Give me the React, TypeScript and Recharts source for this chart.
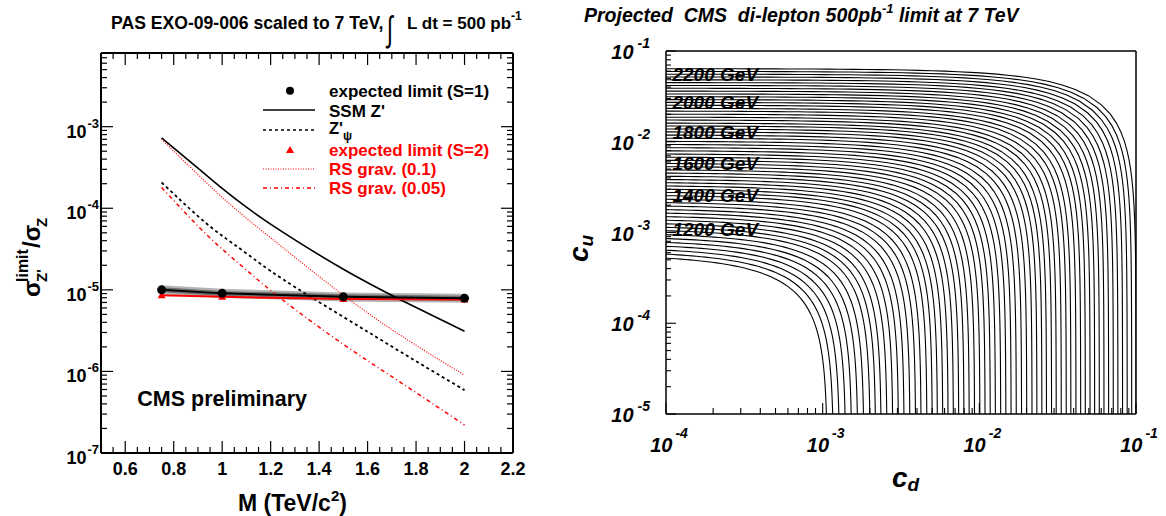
import React from 'react';
import { ComposedChart, LineChart, Line, Area, XAxis, YAxis, Legend, ReferenceDot } from 'recharts';

const FONT = '"Liberation Sans", Arial, Helvetica, sans-serif';

// ---------------- Left panel: sigma(Z')/sigma(Z) vs mass ----------------
const massPoints = [0.75, 0.9, 1.0, 1.1, 1.25, 1.5, 1.75, 2.0];
const ssmZprime = [7.3e-4, 3.1e-4, 1.75e-4, 1.03e-4, 5.1e-5, 1.79e-5, 7.2e-6, 3.1e-6];
const psiZprime = [2.07e-4, 8.0e-5, 4.6e-5, 2.8e-5, 1.35e-5, 4.66e-6, 1.64e-6, 5.9e-7];
const rsGrav01 = [7.0e-4, 2.59e-4, 1.36e-4, 7.55e-5, 3.3e-5, 8.6e-6, 2.6e-6, 9.0e-7];
const rsGrav005 = [1.8e-4, 6.05e-5, 3.16e-5, 1.75e-5, 7.5e-6, 2.15e-6, 6.9e-7, 2.2e-7];

const expMass = [0.75, 1.0, 1.5, 2.0];
const expLimitS1 = [1.0e-5, 9.05e-6, 8.2e-6, 7.9e-6];
const expLimitS2 = [8.6e-6, 8.2e-6, 7.7e-6, 7.6e-6];
const bandOuterLow = [8.8e-6, 7.97e-6, 7.22e-6, 6.96e-6];
const bandOuterHigh = [1.135e-5, 1.03e-5, 9.3e-6, 8.95e-6];
const bandInnerLow = [9.32e-6, 8.43e-6, 7.64e-6, 7.36e-6];
const bandInnerHigh = [1.073e-5, 9.7e-6, 8.8e-6, 8.48e-6];

const leftXDomain: [number, number] = [0.5, 2.2];
const leftYDomain: [number, number] = [1e-7, 8e-3];

// ---------------- Right panel: contours in (c_d, c_u) ----------------
const contourMassGeV = [
  1060, 1080, 1100, 1120, 1140, 1160, 1180, 1200, 1220, 1240,
  1260, 1280, 1300, 1320, 1340, 1360, 1380, 1400, 1420, 1440,
  1460, 1480, 1500, 1520, 1540, 1560, 1580, 1600, 1620, 1640,
  1660, 1680, 1700, 1720, 1740, 1760, 1780, 1800, 1820, 1840,
  1860, 1880, 1900, 1920, 1940, 1960, 1980, 2000, 2020, 2040,
  2060, 2080, 2100, 2120, 2140, 2160, 2180, 2200, 2220, 2240,
];
const contourCuIntercept = [
  5.75e-4, 6.31e-4, 6.92e-4, 7.59e-4, 8.32e-4, 9.12e-4, 1.0e-3, 1.1e-3, 1.195e-3, 1.3e-3,
  1.42e-3, 1.55e-3, 1.69e-3, 1.84e-3, 2.01e-3, 2.19e-3, 2.38e-3, 2.6e-3, 2.82e-3, 3.05e-3,
  3.31e-3, 3.59e-3, 3.89e-3, 4.22e-3, 4.57e-3, 4.95e-3, 5.37e-3, 5.82e-3, 6.3e-3, 6.82e-3,
  7.38e-3, 8.0e-3, 8.66e-3, 9.38e-3, 1.015e-2, 1.1e-2, 1.19e-2, 1.29e-2, 1.39e-2, 1.5e-2,
  1.61e-2, 1.74e-2, 1.87e-2, 2.02e-2, 2.18e-2, 2.34e-2, 2.53e-2, 2.72e-2, 2.92e-2, 3.14e-2,
  3.37e-2, 3.62e-2, 3.89e-2, 4.18e-2, 4.49e-2, 4.82e-2, 5.18e-2, 5.56e-2, 5.96e-2, 6.38e-2,
];
const contourCdIntercept = [
  1.075e-3, 1.177e-3, 1.287e-3, 1.408e-3, 1.539e-3, 1.683e-3, 1.839e-3, 2.017e-3, 2.186e-3, 2.371e-3,
  2.583e-3, 2.812e-3, 3.057e-3, 3.319e-3, 3.616e-3, 3.929e-3, 4.258e-3, 4.638e-3, 5.014e-3, 5.408e-3,
  5.852e-3, 6.329e-3, 6.839e-3, 7.398e-3, 7.988e-3, 8.628e-3, 9.333e-3, 1.009e-2, 1.089e-2, 1.175e-2,
  1.267e-2, 1.37e-2, 1.478e-2, 1.596e-2, 1.722e-2, 1.861e-2, 2.008e-2, 2.17e-2, 2.331e-2, 2.508e-2,
  2.684e-2, 2.892e-2, 3.097e-2, 3.335e-2, 3.588e-2, 3.84e-2, 4.139e-2, 4.436e-2, 4.748e-2, 5.09e-2,
  5.446e-2, 5.832e-2, 6.247e-2, 6.688e-2, 7.162e-2, 7.664e-2, 8.21e-2, 8.785e-2, 9.387e-2, 1.002e-1,
];
const labeledMasses = [2200, 2000, 1800, 1600, 1400, 1200];
const labelCd = 1.1e-4;
const rightXDomain: [number, number] = [1e-4, 1e-1];
const rightYDomain: [number, number] = [1e-5, 1e-1];

// ---------------- helpers ----------------
function logTicks(lo: number, hi: number): number[] {
  const out: number[] = [];
  for (let e = Math.floor(Math.log10(lo)); e <= Math.ceil(Math.log10(hi)); e++) {
    for (let m = 1; m <= 9; m++) {
      const v = m * Math.pow(10, e);
      if (v >= lo * 0.999 && v <= hi * 1.001) out.push(v);
    }
  }
  return out;
}
function isDecade(v: number) {
  const l = Math.log10(v);
  return Math.abs(l - Math.round(l)) < 1e-6;
}
const leftXTicks: number[] = [];
for (let k = 0; k <= 34; k++) leftXTicks.push(+(leftXDomain[0] + 0.05 * k).toFixed(2));
const leftYTicks = logTicks(leftYDomain[0], leftYDomain[1]);
const rightXTicks = logTicks(rightXDomain[0], rightXDomain[1]);
const rightYTicks = logTicks(rightYDomain[0], rightYDomain[1]);

const leftTable = massPoints.map((m, i) => {
  const j = expMass.indexOf(m);
  return {
    m,
    ssm: ssmZprime[i],
    psi: psiZprime[i],
    rs01: rsGrav01[i],
    rs005: rsGrav005[i],
    exp1: j >= 0 ? expLimitS1[j] : null,
    exp2: j >= 0 ? expLimitS2[j] : null,
    outer: j >= 0 ? [bandOuterLow[j], bandOuterHigh[j]] : null,
    inner: j >= 0 ? [bandInnerLow[j], bandInnerHigh[j]] : null,
  };
});

// contour: c_u / cu0 + c_d / cd0 = 1
function contourPoints(cu0: number, cd0: number) {
  const pts: { cd: number; cu: number }[] = [];
  const n = 36;
  const a0 = Math.log10(6e-5), a1 = Math.log10(cd0 * 0.6);
  for (let i = 0; i <= n; i++) {
    const cd = Math.pow(10, a0 + ((a1 - a0) * i) / n);
    pts.push({ cd, cu: cu0 * (1 - cd / cd0) });
  }
  const b0 = Math.log10(cu0 * 0.4), b1 = Math.log10(6e-6);
  for (let j = 1; j <= n; j++) {
    const cu = Math.pow(10, b0 + ((b1 - b0) * j) / n);
    pts.push({ cd: cd0 * (1 - cu / cu0), cu });
  }
  return pts;
}
const contours = contourMassGeV.map((M, i) => ({
  M,
  pts: contourPoints(contourCuIntercept[i], contourCdIntercept[i]),
}));

// ---------------- tick renderers ----------------
const isLeftMajorX = (v: number) => Math.abs(v * 5 - Math.round(v * 5)) < 1e-6;
const fmtX = (v: number) => (Math.abs(v - Math.round(v)) < 1e-6 ? String(Math.round(v)) : v.toFixed(1));

const LeftXTick = (p: any) => {
  const v = p.payload.value;
  const major = isLeftMajorX(v);
  return (
    <g>
      <line x1={p.x} x2={p.x} y1={p.y} y2={p.y - (major ? 12 : 6)} stroke="#000" strokeWidth={1.2} />
      {major && (
        <text x={p.x} y={p.y + 22} textAnchor="middle" fontFamily={FONT} fontWeight={700} fontSize={18} fill="#000">
          {fmtX(v)}
        </text>
      )}
    </g>
  );
};
const LeftXTopTick = (p: any) => {
  const major = isLeftMajorX(p.payload.value);
  return <line x1={p.x} x2={p.x} y1={p.y} y2={p.y + (major ? 12 : 6)} stroke="#000" strokeWidth={1.2} />;
};
const LeftYTick = (p: any) => {
  const v = p.payload.value;
  const major = isDecade(v);
  return (
    <g>
      <line x1={p.x} x2={p.x + (major ? 12 : 6)} y1={p.y} y2={p.y} stroke="#000" strokeWidth={1.2} />
      {major && (
        <text x={p.x - 2} y={p.y + 11} textAnchor="end" fontFamily={FONT} fontWeight={700} fontSize={18} fill="#000">
          10
          <tspan dx={1} dy={-10} fontSize={13}>
            {String(Math.round(Math.log10(v)))}
          </tspan>
        </text>
      )}
    </g>
  );
};
const LeftYRightTick = (p: any) => {
  const major = isDecade(p.payload.value);
  return <line x1={p.x} x2={p.x - (major ? 12 : 6)} y1={p.y} y2={p.y} stroke="#000" strokeWidth={1.2} />;
};
const RightXTick = (p: any) => {
  const v = p.payload.value;
  const major = isDecade(v);
  return (
    <g>
      <line x1={p.x} x2={p.x} y1={p.y} y2={p.y - (major ? 11 : 6)} stroke="#000" strokeWidth={1.1} />
      {major && (
        <text x={p.x + 3} y={p.y + 38} textAnchor="middle" fontFamily={FONT} fontWeight={700} fontStyle="italic" fontSize={20} fill="#000">
          10
          <tspan dx={3} dy={-14} fontSize={14}>
            {String(Math.round(Math.log10(v)))}
          </tspan>
        </text>
      )}
    </g>
  );
};
const RightYTick = (p: any) => {
  const v = p.payload.value;
  const major = isDecade(v);
  return (
    <g>
      <line x1={p.x} x2={p.x + (major ? 10 : 5)} y1={p.y} y2={p.y} stroke="#000" strokeWidth={1.1} />
      {major && (
        <text x={p.x - 16} y={p.y + 8} textAnchor="end" fontFamily={FONT} fontWeight={700} fontStyle="italic" fontSize={20} fill="#000">
          10
          <tspan dx={4} dy={-11} fontSize={14}>
            {String(Math.round(Math.log10(v)))}
          </tspan>
        </text>
      )}
    </g>
  );
};

const RedTriangle = (p: any) => {
  if (p.cx == null || p.cy == null || p.value == null) return <g key={p.index} />;
  const { cx, cy } = p;
  return <path key={p.index} d={`M${cx},${cy - 4} L${cx - 4},${cy + 3} L${cx + 4},${cy + 3} Z`} fill="#ff0000" stroke="none" />;
};
const BlackDot = (p: any) => {
  if (p.cx == null || p.cy == null || p.value == null) return <g key={p.index} />;
  return <circle key={p.index} cx={p.cx} cy={p.cy} r={4.5} fill="#000" />;
};

const LeftLegend = () => {
  const tx = 74;
  const t = { fontFamily: FONT, fontWeight: 700, fontSize: 17 } as const;
  return (
    <svg width={270} height={124} style={{ overflow: 'visible' }}>
      <circle cx={35} cy={12.7} r={4} fill="#000" />
      <text x={tx} y={18.5} {...t} fill="#000">expected limit (S=1)</text>
      <line x1={8} x2={60} y1={32} y2={32} stroke="#000" strokeWidth={1.6} />
      <text x={tx} y={38.5} {...t} fill="#000">SSM Z'</text>
      <line x1={8} x2={60} y1={52} y2={52} stroke="#000" strokeWidth={1.6} strokeDasharray="3 3" />
      <text x={tx} y={55.5} {...t} fontSize={16.5} fill="#000">
        Z'<tspan dy={6} fontSize={12}>ψ</tspan>
      </text>
      <path d="M35,68 L31,75 L39,75 Z" fill="#ff0000" />
      <text x={tx} y={78} {...t} fill="#ff0000">expected limit (S=2)</text>
      <line x1={8} x2={60} y1={91} y2={91} stroke="#ff0000" strokeWidth={1.2} strokeDasharray="1 1.5" />
      <text x={tx} y={97} {...t} fill="#ff0000">RS grav. (0.1)</text>
      <line x1={8} x2={60} y1={110} y2={110} stroke="#ff0000" strokeWidth={1.4} strokeDasharray="4 3 1 3" />
      <text x={tx} y={116} {...t} fill="#ff0000">RS grav. (0.05)</text>
    </svg>
  );
};

const axisLine2 = { stroke: '#000', strokeWidth: 2 };
const axisLine15 = { stroke: '#000', strokeWidth: 1.5 };

export default function App() {
  const bold = { fontFamily: FONT, fontWeight: 700 } as const;
  return (
    <div style={{ position: 'absolute', left: 0, top: 0, width: 1166, height: 516, background: '#fff', overflow: 'hidden' }}>
      {/* ---------- left chart ---------- */}
      <div style={{ position: 'absolute', left: 0, top: 0 }}>
        <ComposedChart width={580} height={516} data={leftTable} margin={{ top: 43, right: 57, bottom: 43, left: 61 }}>
          <XAxis dataKey="m" type="number" domain={leftXDomain} ticks={leftXTicks} interval={0} allowDataOverflow
            height={20} tickSize={0} tickMargin={0} tickLine={false} axisLine={axisLine2} tick={(p: any) => <LeftXTick {...p} />} />
          <XAxis xAxisId="top" orientation="top" dataKey="m" type="number" domain={leftXDomain} ticks={leftXTicks} interval={0} allowDataOverflow
            height={10} tickSize={0} tickMargin={0} tickLine={false} axisLine={axisLine2} tick={(p: any) => <LeftXTopTick {...p} />} />
          <YAxis type="number" scale="log" domain={leftYDomain} ticks={leftYTicks} interval={0} allowDataOverflow
            width={40} tickSize={0} tickMargin={0} tickLine={false} axisLine={axisLine2} tick={(p: any) => <LeftYTick {...p} />} />
          <YAxis yAxisId="right" orientation="right" type="number" scale="log" domain={leftYDomain} ticks={leftYTicks} interval={0} allowDataOverflow
            width={10} tickSize={0} tickMargin={0} tickLine={false} axisLine={axisLine2} tick={(p: any) => <LeftYRightTick {...p} />} />
          <Area dataKey="outer" type="linear" stroke="none" fill="#b4b4b4" fillOpacity={1} connectNulls isAnimationActive={false} />
          <Area dataKey="inner" type="linear" stroke="none" fill="#707070" fillOpacity={1} connectNulls isAnimationActive={false} />
          <Line dataKey="ssm" type="natural" stroke="#000" strokeWidth={1.6} dot={false} isAnimationActive={false} />
          <Line dataKey="psi" type="natural" stroke="#000" strokeWidth={1.8} strokeDasharray="3 3" dot={false} isAnimationActive={false} />
          <Line dataKey="rs01" type="natural" stroke="#ff0000" strokeWidth={1.2} strokeDasharray="1 1.5" dot={false} isAnimationActive={false} />
          <Line dataKey="rs005" type="natural" stroke="#ff0000" strokeWidth={1.5} strokeDasharray="4 3 1 3" dot={false} isAnimationActive={false} />
          <Line dataKey="exp2" type="linear" stroke="#ff0000" strokeWidth={2} connectNulls dot={(p: any) => <RedTriangle {...p} />} isAnimationActive={false} />
          <Line dataKey="exp1" type="linear" stroke="#000" strokeWidth={2} connectNulls dot={(p: any) => <BlackDot {...p} />} isAnimationActive={false} />
          <Legend content={<LeftLegend />} layout="horizontal" verticalAlign="middle" align="center"
            wrapperStyle={{ left: 255, top: 78, width: 270, height: 124 }} />
        </ComposedChart>
      </div>

      {/* ---------- right chart ---------- */}
      <div style={{ position: 'absolute', left: 580, top: 0 }}>
        <LineChart width={586} height={516} margin={{ top: 41, right: 20, bottom: 82, left: 46 }}>
          <XAxis dataKey="cd" type="number" scale="log" domain={rightXDomain} ticks={rightXTicks} interval={0} allowDataOverflow
            height={20} tickSize={0} tickMargin={0} tickLine={false} axisLine={axisLine15} tick={(p: any) => <RightXTick {...p} />} />
          <XAxis xAxisId="top" orientation="top" dataKey="cd" type="number" scale="log" domain={rightXDomain} allowDataOverflow
            height={10} tick={false} tickLine={false} axisLine={axisLine15} />
          <YAxis type="number" scale="log" domain={rightYDomain} ticks={rightYTicks} interval={0} allowDataOverflow
            width={40} tickSize={0} tickMargin={0} tickLine={false} axisLine={axisLine15} tick={(p: any) => <RightYTick {...p} />} />
          <YAxis yAxisId="right" orientation="right" type="number" scale="log" domain={rightYDomain} allowDataOverflow
            width={10} tick={false} tickLine={false} axisLine={axisLine15} />
          {contours.map((c) => (
            <Line key={c.M} data={c.pts} dataKey="cu" type="linear" stroke="#000" strokeWidth={1.1} dot={false} isAnimationActive={false} />
          ))}
          {labeledMasses.map((M) => {
            const i = contourMassGeV.indexOf(M);
            return (
              <ReferenceDot key={M} x={labelCd} y={contourCuIntercept[i]} r={0} ifOverflow="visible"
                shape={(p: any) => (
                  <text x={p.cx} y={p.cy + 7} fontFamily={FONT} fontWeight={700} fontStyle="italic" fontSize={19} fill="#000">
                    {`${M} GeV`}
                  </text>
                )} />
            );
          })}
        </LineChart>
      </div>

      {/* ---------- titles and axis titles ---------- */}
      <svg width={1166} height={516} style={{ position: 'absolute', left: 0, top: 0, pointerEvents: 'none' }}>
        <text x={111} y={29} {...bold} fontSize={17.6} fill="#000">PAS EXO-09-006 scaled to 7 TeV,</text>
        <text transform="translate(387,41) scale(1,1.6)" fontFamily={FONT} fontSize={22} fill="#000">∫</text>
        <text x={407} y={29} {...bold} fontSize={17} fill="#000">
          L dt = 500 pb
          <tspan dy={-9} fontSize={12}>-1</tspan>
        </text>

        <text x={238} y={511} {...bold} fontSize={23} fill="#000">
          M (TeV/c<tspan dy={-10} fontSize={15}>2</tspan><tspan dy={10}>)</tspan>
        </text>

        <g transform="translate(40,297) rotate(-90)">
          <text x={0} y={0} {...bold} fontSize={24} fill="#000">σ</text>
          <text x={15} y={-12} {...bold} fontSize={16} fill="#000">limit</text>
          <text x={15} y={7} {...bold} fontSize={15} fill="#000">Z'</text>
          <text x={49} y={0} {...bold} fontSize={24} fill="#000">/σ</text>
          <text x={70} y={7} {...bold} fontSize={15} fill="#000">Z</text>
        </g>

        <text x={307} y={406} textAnchor="end" {...bold} fontSize={21.5} fill="#000">CMS preliminary</text>

        <text x={584} y={21.5} {...bold} fontStyle="italic" fontSize={19.5} fill="#000" style={{ whiteSpace: 'pre' }}>
          {'Projected  CMS  di-lepton 500pb'}
          <tspan dy={-9} fontSize={13}>-1</tspan>
          <tspan dy={9}>{' limit at 7 TeV'}</tspan>
        </text>

        <text x={892} y={487} {...bold} fontStyle="italic" fontSize={28} fill="#000">
          c<tspan dy={4} fontSize={19}>d</tspan>
        </text>
        <g transform="translate(588,262) rotate(-90)">
          <text x={0} y={0} {...bold} fontStyle="italic" fontSize={28} fill="#000">
            c<tspan dy={5} fontSize={19}>u</tspan>
          </text>
        </g>
      </svg>
    </div>
  );
}
